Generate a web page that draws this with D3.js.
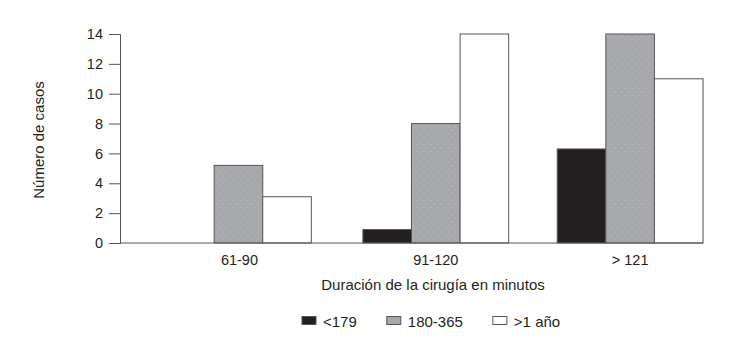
<!DOCTYPE html>
<html>
<head>
<meta charset="utf-8">
<script src="https://cdn.jsdelivr.net/npm/d3@7"></script>
<style>
  body { margin: 0; background: #fff; }
  text { font-family: "Liberation Sans", Arial, Helvetica, sans-serif; fill: #231f20; }
</style>
</head>
<body>
<div id="chart"></div>
<script>
const width = 730;
const height = 350;
const margin = { top: 34, right: 27, bottom: 107, left: 120 };

// data
const categories = ["61-90", "91-120", "> 121"];
const series = ["<179", "180-365", ">1 año"];
const lt179 = [0, 0.9, 6.3];
const d180to365 = [5.2, 8, 14];
const gt1year = [3.1, 14, 11];
const yTicks = [0, 2, 4, 6, 8, 10, 12, 14];

const values = [lt179, d180to365, gt1year];
const colors = ["#231f20", "url(#stipple)", "#ffffff"];
const swatchColors = ["#231f20", "#a6a8ab", "#ffffff"];

const svg = d3.select("#chart")
  .append("svg")
  .attr("width", width)
  .attr("height", height);

// dotted gray fill like the print
const defs = svg.append("defs");
const pat = defs.append("pattern")
  .attr("id", "stipple")
  .attr("patternUnits", "userSpaceOnUse")
  .attr("width", 7)
  .attr("height", 7);
pat.append("rect").attr("width", 7).attr("height", 7).attr("fill", "#a6a8ab");
pat.append("circle").attr("cx", 1.5).attr("cy", 2).attr("r", 0.5).attr("fill", "#c4c6c8");
pat.append("circle").attr("cx", 5).attr("cy", 5.5).attr("r", 0.5).attr("fill", "#c4c6c8");

const g = svg.append("g")
  .attr("transform", `translate(${margin.left},${margin.top})`);

const innerW = width - margin.left - margin.right;
const innerH = height - margin.top - margin.bottom;

const x0 = d3.scaleBand()
  .domain(categories)
  .range([0, innerW])
  .paddingInner(0.25)
  .paddingOuter(0.125)
  .align(1);

const x1 = d3.scaleBand()
  .domain(series)
  .range([0, x0.bandwidth()]);

const y = d3.scaleLinear()
  .domain([0, 14])
  .range([innerH, 0]);

// bars
categories.forEach((cat, i) => {
  const grp = g.append("g").attr("transform", `translate(${x0(cat) - (i === 0 ? 3 : 0)},0)`);
  series.forEach((s, j) => {
    const v = values[j][i];
    if (v <= 0) return;
    grp.append("rect")
      .attr("x", x1(s))
      .attr("y", y(v))
      .attr("width", x1.bandwidth())
      .attr("height", innerH - y(v))
      .attr("fill", colors[j])
      .attr("stroke", "#555")
      .attr("stroke-width", 1);
  });
});

// y axis
const yAxis = g.append("g")
  .call(d3.axisLeft(y).tickValues(yTicks).tickSize(11).tickPadding(6));
yAxis.select(".domain").attr("stroke", "#555");
yAxis.selectAll(".tick line").attr("stroke", "#555");
yAxis.selectAll("text").attr("font-size", "14.5px").attr("fill", "#231f20");

// baseline
g.append("line")
  .attr("x1", 0)
  .attr("x2", innerW)
  .attr("y1", innerH)
  .attr("y2", innerH)
  .attr("stroke", "#555")
  .attr("stroke-width", 1);

// category labels
g.selectAll(".cat")
  .data(categories)
  .enter()
  .append("text")
  .attr("x", (d, i) => x0(d) + x0.bandwidth() / 2 - (i === 0 ? 2 : 0))
  .attr("y", innerH + 22)
  .attr("text-anchor", "middle")
  .attr("font-size", "14.5px")
  .text(d => d);

// axis titles
svg.append("text")
  .attr("x", 433)
  .attr("y", 290)
  .attr("text-anchor", "middle")
  .attr("font-size", "15px")
  .text("Duración de la cirugía en minutos");

svg.append("text")
  .attr("transform", "translate(44,140) rotate(-90)")
  .attr("text-anchor", "middle")
  .attr("font-size", "15px")
  .text("Número de casos");

// legend
const legend = svg.append("g").attr("transform", "translate(302,316)");
let lx = 0;
series.forEach((s, j) => {
  legend.append("rect")
    .attr("x", lx)
    .attr("y", 0.5)
    .attr("width", 14)
    .attr("height", 8)
    .attr("fill", swatchColors[j])
    .attr("stroke", "#555")
    .attr("stroke-width", 1);
  const t = legend.append("text")
    .attr("x", lx + 21)
    .attr("y", 11)
    .attr("font-size", "15px")
    .text(s);
  lx += 21 + t.node().getComputedTextLength() + 30;
});
</script>
</body>
</html>
